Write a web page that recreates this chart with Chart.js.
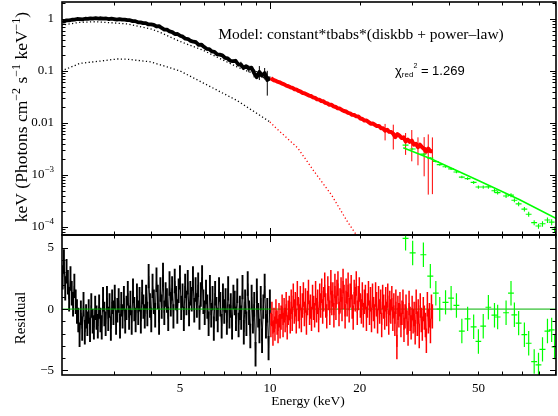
<!DOCTYPE html>
<html>
<head>
<meta charset="utf-8">
<script src="https://cdn.jsdelivr.net/npm/chart.js@4.4.1/dist/chart.umd.min.js"></script>
<style>
  html, body { margin: 0; padding: 0; background: #fff; }
  #wrap { position: relative; width: 558px; height: 416px; }
  #wrap canvas { position: absolute; left: 0; top: 0; }
</style>
</head>
<body>
<div id="wrap">
  <canvas id="spec" width="558" height="416"></canvas>
  <canvas id="resid" width="558" height="416"></canvas>
</div>
<script>
// axis limits
const X_MIN = 2.01, X_MAX = 91;
const SPEC_MIN = 7.0e-5, SPEC_MAX = 2.12;
const RES_MIN = -5.4, RES_MAX = 6.07;

// ticks
const xLabelVals = [5, 10, 20, 50];
const xMajorTicks = [10];
const xMinorTicks = [3, 4, 5, 6, 7, 8, 9, 20, 30, 40, 50, 60, 70, 80, 90];
const specTickVals = [1, 0.1, 0.01, 1e-3, 1e-4];
const specTickBase = ['1', '0.1', '0.01', '10', '10'];
const specTickExp = ['', '', '', '\u22123', '\u22124'];
const specMinorMant = [2, 3, 4, 5, 6, 7, 8, 9];
const specDecades = [1e-5, 1e-4, 1e-3, 0.01, 0.1, 1];
const resTickVals = [-5, 0, 5];
const resTickText = ['\u22125', '0', '5'];
const resMinorTicks = [-4, -3, -2, -1, 1, 2, 3, 4];

// black spectrum (2-10 keV), upper panel
const blackE = [2.020,2.041,2.083,2.126,2.170,2.215,2.260,2.307,2.354,2.403,
  2.452,2.503,2.554,2.607,2.660,2.715,2.771,2.828,2.886,2.946,
  3.006,3.068,3.131,3.196,3.262,3.329,3.397,3.467,3.539,3.612,
  3.686,3.762,3.839,3.918,3.999,4.081,4.165,4.251,4.338,4.428,
  4.519,4.612,4.707,4.804,4.902,5.003,5.106,5.211,5.318,5.428,
  5.539,5.653,5.770,5.889,6.010,6.134,6.260,6.389,6.520,6.655,
  6.792,6.931,7.074,7.220,7.368,7.520,7.675,7.833,7.994,8.159,
  8.327,8.498,8.673,8.852,9.034,9.220,9.410,9.604,9.802,10.00];
const blackFlux = [0.887,0.894,0.941,0.938,0.965,0.970,0.999,0.993,0.984,1.009,
  1.005,1.029,1.014,1.034,1.019,1.032,1.012,1.022,0.993,1.012,
  0.996,0.975,0.995,0.968,0.969,0.946,0.947,0.911,0.909,0.864,
  0.862,0.833,0.833,0.784,0.790,0.772,0.717,0.729,0.672,0.626,
  0.622,0.575,0.559,0.513,0.514,0.475,0.457,0.417,0.411,0.378,
  0.365,0.357,0.317,0.322,0.291,0.267,0.264,0.237,0.233,0.208,
  0.206,0.200,0.179,0.174,0.157,0.155,0.157,0.133,0.134,0.114,
  0.124,0.111,0.116,0.0916,0.0757,0.0956,0.0814,0.0912,0.0671,0.0728];
const blackErrPct = [1.2,1.2,1.2,1.2,1.2,1.2,1.2,1.2,1.2,1.2,
  1.2,1.2,1.2,1.2,1.2,1.2,1.2,1.2,1.2,1.2,
  1.2,1.2,1.2,1.2,1.2,1.2,1.2,1.2,1.2,1.2,
  1.8,1.8,1.8,1.8,1.8,1.8,1.8,1.8,1.8,1.8,
  1.8,1.8,1.8,1.8,1.8,1.8,1.8,1.8,1.8,1.8,
  1.8,2.5,2.5,2.5,2.5,2.5,2.5,2.5,2.5,2.5,
  2.5,2.5,2.5,2.5,2.5,2.5,4,4,12,4,
  5,15,5,18,6,30,7,25,50,8];

// black residuals (finer channels)
const blackResE = [2.020,2.040,2.061,2.082,2.103,2.124,2.146,2.167,2.189,2.211,
  2.234,2.256,2.279,2.302,2.325,2.349,2.373,2.397,2.421,2.445,
  2.470,2.495,2.520,2.546,2.571,2.597,2.624,2.650,2.677,2.704,
  2.731,2.759,2.787,2.815,2.844,2.872,2.901,2.931,2.960,2.990,
  3.020,3.051,3.082,3.113,3.145,3.176,3.208,3.241,3.274,3.307,
  3.340,3.374,3.408,3.442,3.477,3.512,3.548,3.584,3.620,3.657,
  3.694,3.731,3.768,3.807,3.845,3.884,3.923,3.963,4.003,4.043,
  4.084,4.126,4.168,4.210,4.252,4.295,4.339,4.383,4.427,4.472,
  4.517,4.563,4.609,4.655,4.702,4.750,4.798,4.846,4.895,4.945,
  4.995,5.045,5.096,5.148,5.200,5.252,5.305,5.359,5.413,5.468,
  5.523,5.579,5.636,5.693,5.750,5.808,5.867,5.926,5.986,6.047,
  6.108,6.170,6.232,6.295,6.359,6.423,6.488,6.554,6.620,6.687,
  6.754,6.823,6.892,6.961,7.032,7.103,7.175,7.247,7.320,7.394,
  7.469,7.545,7.621,7.698,7.776,7.855,7.934,8.014,8.095,8.177,
  8.260,8.343,8.427,8.513,8.599,8.686,8.774,8.862,8.952,9.042,
  9.134,9.226,9.319,9.414,9.509,9.605,9.702,9.800,9.899,10.00];
const blackRes = [2.6,3.9,1.7,3.1,2.2,0.8,2.5,1.3,0.4,1.9,
  0.6,-0.2,-0.9,-2.1,-0.3,-1.6,0.4,-1.9,-0.6,-1.2,
  -0.2,-1.7,0.3,-1.0,-1.5,0.1,-0.7,-1.4,0.2,-0.9,
  -1.5,0.8,-0.4,-1.2,0.9,-0.8,0.3,-1.6,0.6,-0.3,
  1.0,-1.1,-0.1,0.7,-1.4,0.4,-0.6,0.9,-1.0,0.1,
  1.3,-0.7,0.5,-1.1,1.5,0.0,-0.9,1.1,-0.3,0.8,
  -1.0,1.4,0.2,-0.6,1.0,-0.4,2.7,0.3,-0.9,1.9,
  0.6,-0.5,2.4,1.0,-1.1,1.6,0.2,2.8,-0.3,1.2,
  0.7,-0.8,2.1,0.4,1.7,-0.6,2.3,0.9,-0.2,1.5,
  2.6,0.1,1.1,-0.8,1.9,0.5,2.2,-0.4,1.3,0.8,
  2.5,-0.1,1.6,0.3,2.0,-0.7,1.2,2.6,0.6,-0.3,
  1.4,0.2,-1.2,1.8,-0.5,0.9,-1.6,1.3,0.0,-0.9,
  1.6,0.4,-1.4,1.1,-0.2,0.7,-1.1,1.7,-0.6,0.3,
  -1.5,1.0,0.5,-0.8,1.5,-1.3,0.1,-0.7,1.8,-1.9,
  0.6,-1.2,2.1,-0.3,-2.2,1.0,-1.0,0.4,-3.7,1.5,
  -0.5,-1.8,0.9,-2.6,0.2,1.9,-1.4,-0.1,-3.2,0.6];

// red spectrum (10-35 keV), upper panel
const redE = [10.08,10.16,10.32,10.49,10.65,10.82,11.00,11.17,11.35,11.53,
  11.72,11.91,12.10,12.29,12.49,12.69,12.89,13.10,13.31,13.52,
  13.73,13.95,14.18,14.40,14.63,14.87,15.11,15.35,15.59,15.84,
  16.10,16.35,16.62,16.88,17.15,17.43,17.71,17.99,18.28,18.57,
  18.87,19.17,19.48,19.79,20.11,20.43,20.76,21.09,21.43,21.77,
  22.12,22.47,22.83,23.20,23.57,23.94,24.33,24.72,25.11,25.51,
  25.92,26.34,26.76,27.19,27.62,28.06,28.51,28.97,29.43,29.90,
  30.38,30.87,31.36,31.86,32.37,32.89,33.42,33.95,34.50,35.05];
const redFlux = [0.0723,0.0702,0.0662,0.0644,0.0615,0.0599,0.0570,0.0553,0.0523,0.0509,
  0.0485,0.0472,0.0446,0.0437,0.0413,0.0399,0.0378,0.0370,0.0353,0.0336,
  0.0329,0.0311,0.0303,0.0284,0.0281,0.0265,0.0261,0.0244,0.0238,0.0223,
  0.0223,0.0209,0.0203,0.0191,0.0189,0.0178,0.0170,0.0166,0.0156,0.0153,
  0.0143,0.0142,0.0134,0.0133,0.0122,0.0119,0.0111,0.01115,0.01039,0.00970,
  0.00979,0.00924,0.00871,0.00877,0.00795,0.00789,0.00710,0.00742,0.00676,0.00668,
  0.00618,0.00535,0.00612,0.00571,0.00514,0.00528,0.00442,0.00479,0.00432,0.00457,
  0.00383,0.00399,0.00341,0.00382,0.00341,0.00314,0.00281,0.00322,0.00286,0.00285];
const redErrPct = [1,1,1,1,1,1,1,1,1,1,
  1,1,1,1,1,1,1,1,1,1,
  1,1.5,1.5,1.5,1.5,1.5,1.5,1.5,1.5,1.5,
  1.5,1.5,1.5,1.5,1.5,1.5,1.5,1.5,1.5,1.5,
  1.5,2.5,2.5,2.5,2.5,2.5,2.5,2.5,2.5,2.5,
  2.5,2.5,2.5,2.5,2.5,2.5,35,4,4,4,
  50,4,4,4,5,5,45,6,6,60,
  6,6,55,6,6,70,6,87,6,85];

// red residuals (finer channels)
const redResE = [10.08,10.16,10.24,10.32,10.40,10.48,10.57,10.65,10.73,10.82,
  10.90,10.99,11.07,11.16,11.25,11.34,11.43,11.52,11.61,11.70,
  11.79,11.88,11.98,12.07,12.17,12.26,12.36,12.45,12.55,12.65,
  12.75,12.85,12.95,13.05,13.16,13.26,13.37,13.47,13.58,13.68,
  13.79,13.90,14.01,14.12,14.23,14.34,14.46,14.57,14.69,14.80,
  14.92,15.03,15.15,15.27,15.39,15.51,15.64,15.76,15.88,16.01,
  16.13,16.26,16.39,16.52,16.65,16.78,16.91,17.05,17.18,17.32,
  17.45,17.59,17.73,17.87,18.01,18.15,18.29,18.44,18.58,18.73,
  18.87,19.02,19.17,19.32,19.48,19.63,19.78,19.94,20.10,20.26,
  20.41,20.57,20.74,20.90,21.07,21.23,21.40,21.57,21.74,21.91,
  22.08,22.25,22.43,22.61,22.78,22.96,23.14,23.33,23.51,23.70,
  23.88,24.07,24.26,24.45,24.64,24.84,25.03,25.23,25.43,25.63,
  25.83,26.03,26.24,26.44,26.65,26.86,27.07,27.29,27.50,27.72,
  27.93,28.15,28.38,28.60,28.83,29.05,29.28,29.51,29.75,29.98,
  30.21,30.45,30.69,30.93,31.18,31.42,31.67,31.92,32.17,32.43,
  32.68,32.94,33.20,33.46,33.72,33.99,34.26,34.53,34.80,35.05];
const redRes = [-1.3,-0.4,-2.0,-0.9,-1.6,-0.2,-1.1,-1.8,-0.5,-1.4,
  -0.7,0.2,-1.3,-0.1,-0.9,0.4,-1.5,-0.3,0.1,-1.0,
  0.6,-0.8,1.1,-0.2,0.4,-1.0,1.3,0.0,-0.6,0.9,
  -0.9,0.3,1.2,-0.4,0.7,-1.1,0.5,1.4,-0.3,0.2,
  -0.8,1.0,0.1,-0.5,1.3,-0.1,0.6,-0.9,1.1,0.3,
  1.5,-0.2,0.8,2.0,0.3,-0.6,1.7,0.9,-0.3,2.2,
  0.5,1.2,-0.5,1.9,0.1,1.4,2.1,-0.4,0.7,1.6,
  0.0,2.3,1.0,-0.6,1.5,0.4,2.0,-0.1,1.1,1.8,
  0.2,-0.7,1.4,0.8,2.1,-0.3,0.9,1.6,0.3,-0.2,
  1.2,-0.5,0.6,1.0,-0.8,0.3,1.3,-0.3,0.8,-0.9,
  1.1,0.0,-0.6,1.2,0.4,-1.0,0.9,-0.2,0.6,-1.3,
  1.0,0.2,-0.7,0.8,-0.4,1.1,-1.1,0.5,-0.2,0.9,
  -0.8,0.3,-1.2,0.6,-3.1,0.1,-0.5,0.4,-1.3,-0.3,
  0.6,-1.7,-0.6,0.2,-1.1,-2.0,0.5,-0.8,-1.5,0.1,
  -1.0,-0.4,-1.9,0.6,-1.2,-0.2,-2.2,0.3,-0.9,-1.6,
  0.0,-0.7,-1.3,-2.6,0.4,-1.0,-0.5,-1.8,0.2,-0.6];

// green spectrum (28-90 keV), grouped bins
const greenE = [28.5,30.1,32.7,34.5,36.0,37.1,38.8,40.5,42.2,44.0,
  46.0,48.2,50.0,51.9,54.0,56.6,58.0,61.9,64.3,66.0,
  68.2,71.3,73.7,76.9,79.5,82.0,85.2,88.0,90.0];
const greenHalfW = [0.65,0.7,0.75,0.8,0.8,0.85,0.9,0.9,0.95,1.0,
  1.05,1.1,1.1,1.15,1.2,1.3,1.3,1.4,1.45,1.5,
  1.55,1.6,1.65,1.75,1.8,1.9,1.95,2.0,2.05];
const greenFlux = [3.75e-3,3.15e-3,2.52e-3,2.11e-3,1.81e-3,1.58e-3,1.44e-3,1.31e-3,1.14e-3,9.1e-4,
  8.5e-4,7.2e-4,5.85e-4,5.86e-4,5.9e-4,4.96e-4,4.58e-4,3.95e-4,4.1e-4,3.27e-4,
  2.78e-4,2.2e-4,1.76e-4,1.21e-4,1.04e-4,1.15e-4,1.36e-4,1.24e-4,9.0e-5];
const greenErrPct = [3,3,3,3.5,4,4.5,4.5,5,5,5.5,
  6,6.5,7,7,7.5,8,8,9,9,9,
  10,10,11,11,11,12,12,13,13];
const greenRes = [5.8,4.6,4.45,2.7,1.3,0.0,0.55,0.9,0.3,-1.8,
  -0.8,-1.45,-2.65,-1.4,0.15,-0.5,-0.65,-0.3,1.3,-0.47,
  -1.15,-2.1,-2.8,-4.3,-4.57,-3.3,-1.8,-1.7,-3.1];

// model curves
const blackModelE = [2.0, 2.3, 2.6, 3.0, 3.33, 4.0, 4.3, 5.0, 5.9, 7.76, 10.0];
const blackModel = [0.86, 1.00, 1.04, 1.00, 0.96, 0.78, 0.68, 0.47, 0.30, 0.141, 0.075];
const plE = [2.0, 2.3, 2.6, 3.0, 3.33, 4.0, 4.3, 4.63, 5.0, 5.97, 7.76, 10.0];
const plFlux = [0.76, 0.86, 0.885, 0.84, 0.80, 0.64, 0.55, 0.45, 0.37, 0.25, 0.12, 0.066];
const diskE = [2.0, 2.31, 2.7, 3.08, 3.33, 3.97, 4.52, 5.0, 5.97, 7.76, 10.0];
const diskFlux = [0.10, 0.14, 0.155, 0.17, 0.168, 0.15, 0.12, 0.10, 0.059, 0.027, 0.0105];
const redDiskE = [10.0, 10.39, 12.4, 14.1, 16.1, 18.2, 19.2, 20.5];
const redDisk = [0.0105, 0.0084, 0.0033, 0.00115, 0.00041, 0.000126, 0.00008, 0.000045];
const redModelE = [10.0, 18.5, 35.05];
const redModel = [0.0733, 0.0151, 0.00292];
const greenModelE = [28.0, 34.8, 50.4, 68.5, 91.8];
const greenModel = [3.35e-3, 2.03e-3, 7.67e-4, 3.38e-4, 1.43e-4];
const zeroE = [X_MIN, X_MAX];
const zeroRes = [0, 0];

const BLACK = '#000000', RED = '#ff0000', GREEN = '#00ff00';
const SERIF = '"Liberation Serif", "Times New Roman", serif';
const SANS = '"Liberation Sans", Arial, sans-serif';

Chart.defaults.font.family = SERIF;
Chart.defaults.color = '#000';

// helpers to turn the arrays into point lists
function pairs(xs, ys) {
  return xs.map((x, i) => ({ x: x, y: ys[i] }));
}
function vSegments(xs, lo, hi) {
  const pts = [];
  xs.forEach((x, i) => { pts.push({ x: x, y: lo[i] }, { x: x, y: hi[i] }, { x: x, y: null }); });
  return pts;
}
function hSegments(xs, half, ys) {
  const pts = [];
  xs.forEach((x, i) => { pts.push({ x: x - half[i], y: ys[i] }, { x: x + half[i], y: ys[i] }, { x: x, y: null }); });
  return pts;
}
function fluxLo(f, p) { return f.map((v, i) => Math.max(v * (1 - p[i] / 100), 1e-7)); }
function fluxHi(f, p) { return f.map((v, i) => v * (1 + p[i] / 100)); }
function resLo(r) { return r.map(v => v - 1); }
function resHi(r) { return r.map(v => v + 1); }

function lineSet(data, color, width, order, extra) {
  return Object.assign({
    data: data, borderColor: color, borderWidth: width, order: order,
    pointRadius: 0, pointHoverRadius: 0, fill: false, tension: 0,
    spanGaps: false, borderJoinStyle: 'round'
  }, extra || {});
}
const dotted = { borderDash: [1.2, 2.4] };

// keep the plot area where the padding puts it
function noLabelPadding(s) {
  s.paddingTop = 0; s.paddingBottom = 0; s.paddingLeft = 0; s.paddingRight = 0;
}

// frame with inward ticks on all four sides
function makeFrame(cfg) {
  return {
    id: 'frame',
    afterDraw(chart) {
      const { ctx, chartArea: a, scales } = chart;
      const xs = scales.x, ys = scales.y;
      ctx.save();
      ctx.strokeStyle = '#000';
      ctx.lineWidth = 1;
      ctx.beginPath();
      const tx = (v, len) => {
        const p = Math.round(xs.getPixelForValue(v)) + 0.5;
        if (p < a.left || p > a.right) return;
        ctx.moveTo(p, a.top); ctx.lineTo(p, a.top + len);
        ctx.moveTo(p, a.bottom); ctx.lineTo(p, a.bottom - len);
      };
      const ty = (v, len) => {
        const p = Math.round(ys.getPixelForValue(v)) + 0.5;
        if (p < a.top || p > a.bottom) return;
        ctx.moveTo(a.left, p); ctx.lineTo(a.left + len, p);
        ctx.moveTo(a.right, p); ctx.lineTo(a.right - len, p);
      };
      xMajorTicks.forEach(v => tx(v, 7));
      xMinorTicks.forEach(v => tx(v, 3.5));
      cfg.yMajor.forEach(v => ty(v, 6));
      cfg.yMinor.forEach(v => ty(v, 3.5));
      ctx.stroke();
      ctx.lineWidth = 1.6;
      ctx.strokeRect(a.left, a.top, a.right - a.left, a.bottom - a.top);
      ctx.restore();
    }
  };
}

function richText(ctx, parts, x, y, align, rotate) {
  ctx.save();
  ctx.translate(x, y);
  if (rotate) ctx.rotate(-Math.PI / 2);
  ctx.textAlign = 'left';
  ctx.textBaseline = 'alphabetic';
  ctx.fillStyle = '#000';
  let w = 0;
  parts.forEach(p => { ctx.font = p[1]; w += ctx.measureText(p[0]).width; });
  let cx = align === 'center' ? -w / 2 : (align === 'right' ? -w : 0);
  parts.forEach(p => {
    ctx.font = p[1];
    ctx.fillText(p[0], cx, p[2] || 0);
    cx += ctx.measureText(p[0]).width;
  });
  ctx.restore();
}

const specMinor = [];
specDecades.forEach(d => specMinorMant.forEach(m => specMinor.push(m * d)));

const specNotes = {
  id: 'specNotes',
  afterDraw(chart) {
    const ctx = chart.ctx;
    const ys = chart.scales.y;
    // exponent tick labels
    specTickVals.forEach((v, i) => {
      if (!specTickExp[i]) return;
      const py = ys.getPixelForValue(v);
      ctx.save();
      ctx.font = '9px ' + SERIF;
      const ew = ctx.measureText(specTickExp[i]).width;
      ctx.textAlign = 'right';
      ctx.textBaseline = 'middle';
      ctx.fillStyle = '#000';
      ctx.fillText(specTickExp[i], 54, py - 5);
      ctx.font = '13px ' + SERIF;
      ctx.fillText(specTickBase[i], 54 - ew, py);
      ctx.restore();
    });
    const F = '17.5px ' + SERIF, S = '12px ' + SERIF;
    richText(ctx, [['keV (Photons cm', F], ['\u22122', S, -7], [' s', F], ['\u22121', S, -7],
      [' keV', F], ['\u22121', S, -7], [')', F]], 27, 117, 'center', true);
    richText(ctx, [['Model: constant*tbabs*(diskbb + power\u2013law)', '15.5px ' + SERIF]], 361, 39, 'center');
    richText(ctx, [['\u03c7', '13px ' + SANS], ['red', '8px ' + SANS, 2], ['2', '7px ' + SANS, -7],
      [' = 1.269', '13px ' + SANS]], 395, 75, 'left');
  }
};

const residNotes = {
  id: 'residNotes',
  afterDraw(chart) {
    const ctx = chart.ctx;
    richText(ctx, [['Residual', '15px ' + SERIF]], 25, 318, 'center', true);
    richText(ctx, [['Energy (keV)', '13.5px ' + SERIF]], 308, 405, 'center');
  }
};

// upper panel: unfolded spectrum
new Chart(document.getElementById('spec'), {
  type: 'line',
  data: {
    datasets: [
      lineSet(pairs(diskE, diskFlux), BLACK, 1.3, 20, dotted),
      lineSet(pairs(plE, plFlux), BLACK, 1.3, 19, dotted),
      lineSet(pairs(blackModelE, blackModel), BLACK, 1, 18),
      lineSet(vSegments(blackE, fluxLo(blackFlux, blackErrPct), fluxHi(blackFlux, blackErrPct)), BLACK, 1, 17),
      lineSet(pairs(blackE, blackFlux), BLACK, 3.8, 16),
      lineSet(pairs(redDiskE, redDisk), RED, 1.3, 15, dotted),
      lineSet(pairs(redModelE, redModel), RED, 1, 14),
      lineSet(vSegments(redE, fluxLo(redFlux, redErrPct), fluxHi(redFlux, redErrPct)), RED, 1, 13),
      lineSet(pairs(redE, redFlux), RED, 4, 12),
      lineSet(pairs(greenModelE, greenModel), GREEN, 1.6, 11),
      lineSet(vSegments(greenE, fluxLo(greenFlux, greenErrPct), fluxHi(greenFlux, greenErrPct)), GREEN, 1.1, 10),
      lineSet(hSegments(greenE, greenHalfW, greenFlux), GREEN, 1.1, 9)
    ]
  },
  options: {
    responsive: false,
    animation: false,
    events: [],
    layout: { padding: { left: 0, right: 2, top: 2, bottom: 181 } },
    plugins: { legend: { display: false }, tooltip: { enabled: false } },
    scales: {
      x: { type: 'logarithmic', min: X_MIN, max: X_MAX, display: false },
      y: {
        type: 'logarithmic', min: SPEC_MIN, max: SPEC_MAX, bounds: 'data',
        grid: { display: false, drawTicks: false }, border: { display: false },
        afterBuildTicks: s => { s.ticks = specTickVals.map(v => ({ value: v })); },
        afterFit: s => { s.width = 62; noLabelPadding(s); },
        ticks: {
          padding: 8, autoSkip: false, color: '#000', font: { size: 13 },
          callback: (v, i) => (specTickExp[i] ? '' : specTickBase[i])
        }
      }
    }
  },
  plugins: [makeFrame({ yMajor: specTickVals, yMinor: specMinor }), specNotes]
});

// lower panel: residuals
new Chart(document.getElementById('resid'), {
  type: 'line',
  data: {
    datasets: [
      lineSet(vSegments(blackResE, resLo(blackRes), resHi(blackRes)), BLACK, 1.9, 20),
      lineSet(pairs(blackResE, blackRes), BLACK, 1, 19),
      lineSet(pairs(zeroE, zeroRes), '#00b000', 1, 18),
      lineSet(vSegments(redResE, resLo(redRes), resHi(redRes)), RED, 1.5, 17),
      lineSet(pairs(redResE, redRes), RED, 0.9, 16),
      lineSet(vSegments(greenE, resLo(greenRes), resHi(greenRes)), GREEN, 1.2, 15),
      lineSet(hSegments(greenE, greenHalfW, greenRes), GREEN, 1.2, 14)
    ]
  },
  options: {
    responsive: false,
    animation: false,
    events: [],
    layout: { padding: { left: 0, right: 2, top: 235, bottom: 0 } },
    plugins: { legend: { display: false }, tooltip: { enabled: false } },
    scales: {
      x: {
        type: 'logarithmic', min: X_MIN, max: X_MAX, bounds: 'data',
        grid: { display: false, drawTicks: false }, border: { display: false },
        afterBuildTicks: s => { s.ticks = xLabelVals.map(v => ({ value: v })); },
        afterFit: s => { s.height = 41; noLabelPadding(s); },
        ticks: {
          padding: 6, autoSkip: false, maxRotation: 0, color: '#000', font: { size: 13 },
          callback: v => String(v)
        }
      },
      y: {
        type: 'linear', min: RES_MIN, max: RES_MAX, bounds: 'data',
        grid: { display: false, drawTicks: false }, border: { display: false },
        afterBuildTicks: s => { s.ticks = resTickVals.map(v => ({ value: v })); },
        afterFit: s => { s.width = 62; noLabelPadding(s); },
        ticks: {
          padding: 8, autoSkip: false, color: '#000', font: { size: 13 },
          callback: (v, i) => resTickText[i]
        }
      }
    }
  },
  plugins: [makeFrame({ yMajor: resTickVals, yMinor: resMinorTicks }), residNotes]
});
</script>
</body>
</html>
